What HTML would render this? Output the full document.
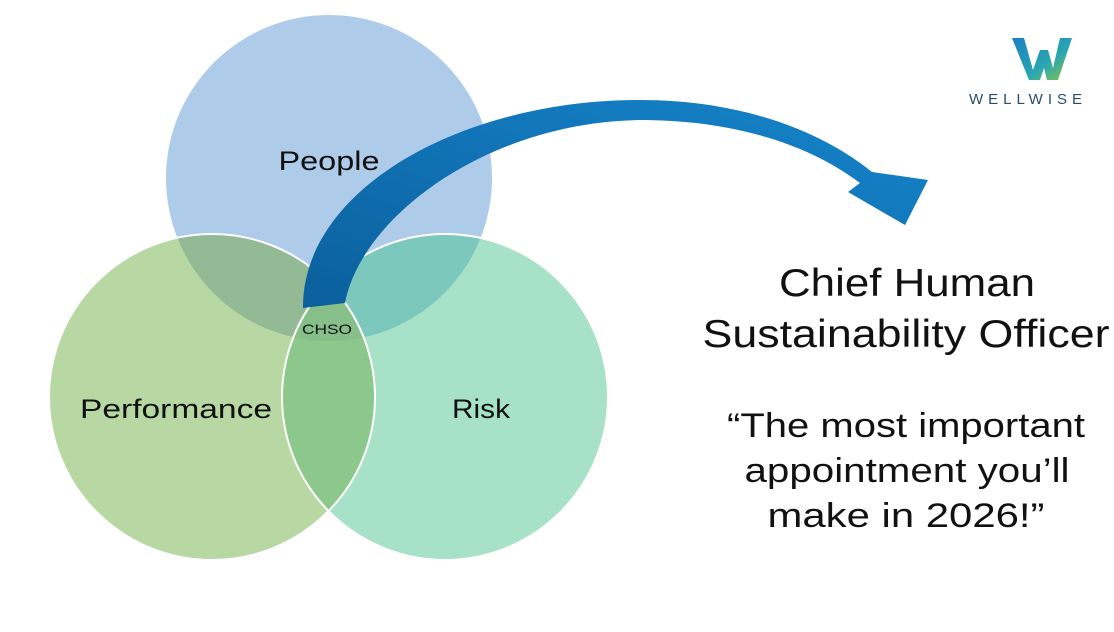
<!DOCTYPE html>
<html><head><meta charset="utf-8"><style>
body{margin:0;background:#fff;width:1114px;height:627px;overflow:hidden;font-family:"Liberation Sans",sans-serif}
</style></head><body>
<svg width="1114" height="627" viewBox="0 0 1114 627" xmlns="http://www.w3.org/2000/svg">
<defs>
<clipPath id="cp"><circle cx="329" cy="178" r="163"/></clipPath>
<clipPath id="cf"><circle cx="212" cy="397" r="163"/></clipPath>
<linearGradient id="ag" x1="0" y1="1" x2="1" y2="0">
<stop offset="0" stop-color="#0b5f9c"/><stop offset="1" stop-color="#1685cc"/></linearGradient>
<linearGradient id="wg" x1="0" y1="0" x2="1" y2="1">
<stop offset="0" stop-color="#1a7fc4"/><stop offset="0.6" stop-color="#2aa6b0"/><stop offset="1" stop-color="#8cc63f"/></linearGradient>
</defs>
<circle cx="329" cy="178" r="163" fill="#aecbe9"/>
<circle cx="212" cy="397" r="163" fill="#b7d7a3"/>
<circle cx="445" cy="397" r="163" fill="#a7e2c8"/>
<g clip-path="url(#cp)"><circle cx="212" cy="397" r="163" fill="#93b995"/><circle cx="445" cy="397" r="163" fill="#7cc8bd"/></g>
<g clip-path="url(#cf)"><circle cx="445" cy="397" r="163" fill="#8cc78c"/></g>
<g clip-path="url(#cp)"><g clip-path="url(#cf)"><circle cx="445" cy="397" r="163" fill="#86bf89"/></g></g>
<circle cx="212" cy="397" r="163" fill="none" stroke="#fff" stroke-width="2"/>
<circle cx="445" cy="397" r="163" fill="none" stroke="#fff" stroke-width="2"/>
<path d="M303,308 C302,190 460,100 640,100 C740,100 820,130 872,172 L928,180 L905,225 L848,192 L860,183 C800,138 720,120 640,120 C490,122 362,215 345,303 Z" fill="url(#ag)"/>
<g font-size="27" fill="#111" text-anchor="middle" lengthAdjust="spacingAndGlyphs">
<text x="329" y="170" textLength="101" lengthAdjust="spacingAndGlyphs">People</text>
<text x="176" y="418" textLength="192" lengthAdjust="spacingAndGlyphs">Performance</text>
<text x="481" y="418" textLength="58" lengthAdjust="spacingAndGlyphs">Risk</text>
</g>
<text x="327" y="334" font-size="14" text-anchor="middle" fill="#111" textLength="50" lengthAdjust="spacingAndGlyphs">CHSO</text>
<g font-size="39" fill="#111" text-anchor="middle">
<text x="907" y="296" textLength="256" lengthAdjust="spacingAndGlyphs">Chief Human</text>
<text x="906" y="347" textLength="407" lengthAdjust="spacingAndGlyphs">Sustainability Officer</text>
</g>
<g font-size="34" fill="#111" text-anchor="middle">
<text x="906" y="437" textLength="358" lengthAdjust="spacingAndGlyphs">“The most important</text>
<text x="907" y="482" textLength="325" lengthAdjust="spacingAndGlyphs">appointment you’ll</text>
<text x="906" y="527" textLength="277" lengthAdjust="spacingAndGlyphs">make in 2026!”</text>
</g>
<path d="M1012,38 L1024,38 L1033,70 L1040,50 L1048,50 L1053,68 L1060,38 L1072,38 L1058,80 L1047,80 L1044,68 L1040,80 L1029,80 Z" fill="url(#wg)"/>
<text x="1028" y="104" font-size="15" fill="#2a4a6a" text-anchor="middle" letter-spacing="5">WELLWISE</text>
</svg>
</body></html>
